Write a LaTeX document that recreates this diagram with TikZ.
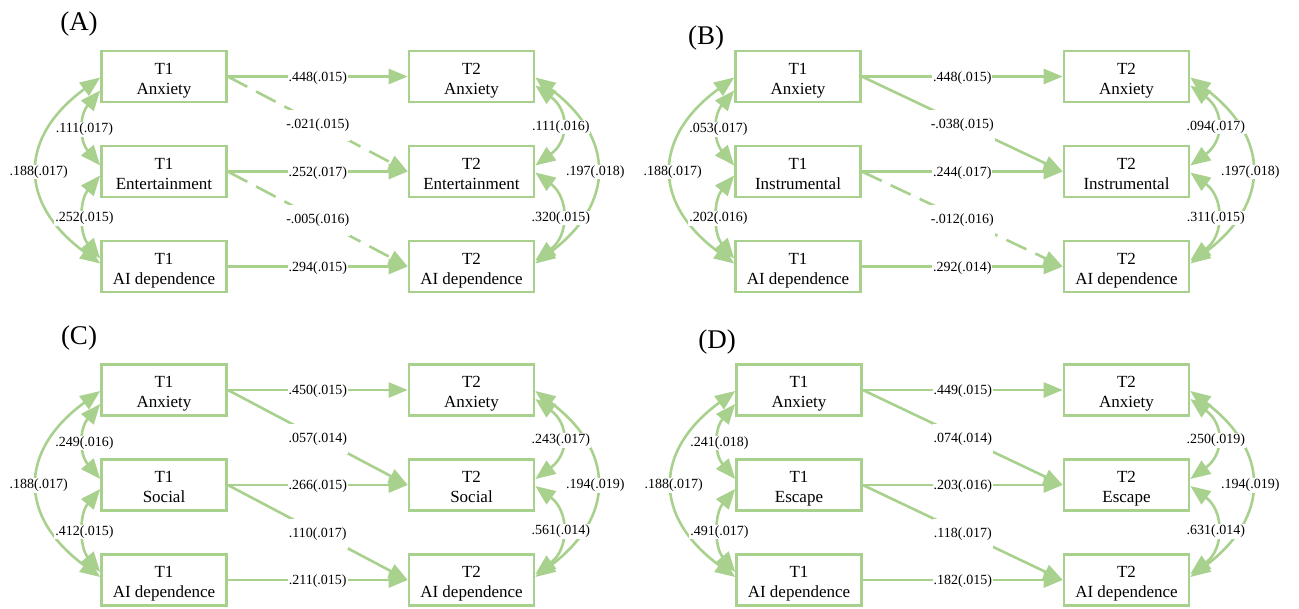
\documentclass[tikz,border=0pt]{standalone}
\usepackage{fontspec}
\setmainfont{Liberation Serif}
\usetikzlibrary{arrows.meta}
\definecolor{gr}{HTML}{A9D18E}
\tikzset{
 box/.style={draw=gr, line width=2.6pt, minimum width=125pt, minimum height=51pt, inner sep=0pt, align=center, font=\fontsize{17}{20}\selectfont, text height=39.5pt, text depth=3.7pt},
 arr/.style={draw=gr, line width=2.6pt, -{Triangle[length=19pt,width=15pt]}},
 darr/.style={draw=gr, line width=2.6pt, {Triangle[length=20pt,width=16pt]}-{Triangle[length=20pt,width=16pt]}},
 lab/.style={fill=white, inner xsep=1pt, inner ysep=2pt, yshift=-1.5pt, font=\fontsize{14}{14}\selectfont, text=black},
 dlab/.style={lab, inner ysep=9pt},
 alab/.style={lab, inner ysep=1pt},
 dsh/.style={dash pattern=on 22pt off 10pt},
 sol/.style={},
 ptitle/.style={font=\fontsize{27}{27}\selectfont}
}
\newcommand\mypanel[5]{%
 \node[box] (#1a) at (#2,#4) {T1\\Anxiety};
 \node[box] (#1b) at (#2,#4+95) {T1\\#5};
 \node[box] (#1c) at (#2,#4+190) {T1\\AI dependence};
 \node[box] (#1d) at (#3,#4) {T2\\Anxiety};
 \node[box] (#1e) at (#3,#4+95) {T2\\#5};
 \node[box] (#1f) at (#3,#4+190) {T2\\AI dependence};
 \draw[arr] (#1a.east) -- node[lab]{\hA} (#1d.west);
 \draw[arr] (#1b.east) -- node[lab]{\hB} (#1e.west);
 \draw[arr] (#1c.east) -- node[lab]{\hC} (#1f.west);
 \draw[arr,\sA] (#1a.east) -- node[dlab]{\gA} (#1e.west);
 \draw[arr,\sB] (#1b.east) -- node[dlab]{\gB} (#1f.west);
 \draw[darr] ([yshift=-1pt]#1a.west) .. controls +(-82,60) and +(-82,-60) .. ([yshift=3pt]#1c.west) node[pos=0.5,alab]{\lB};
 \draw[darr] ([yshift=-14pt]#1a.west) .. controls +(-21,25) and +(-21,-25) .. ([yshift=6pt]#1b.west) node[pos=0.5,alab]{\lA};
 \draw[darr] ([yshift=-4pt]#1b.west) .. controls +(-21,25) and +(-21,-25) .. ([yshift=8pt]#1c.west) node[pos=0.5,alab]{\lC};
 \draw[darr] ([yshift=-1pt]#1d.east) .. controls +(80,60) and +(80,-60) .. ([yshift=3pt]#1f.east) node[pos=0.5,alab]{\rB};
 \draw[darr] ([yshift=-9pt]#1d.east) .. controls +(34,25) and +(34,-25) .. ([yshift=6pt]#1e.east) node[pos=0.5,alab]{\rA};
 \draw[darr] ([yshift=-1pt]#1e.east) .. controls +(34,25) and +(34,-25) .. ([yshift=6pt]#1f.east) node[pos=0.5,alab]{\rC};
}
\begin{document}
\begin{tikzpicture}[x=1pt,y=-1pt]
\fill[white] (0,0) rectangle (1299,608);
\useasboundingbox (0,0) rectangle (1299,608);
% Panel A
\def\hA{.448(.015)}\def\hB{.252(.017)}\def\hC{.294(.015)}
\def\gA{-.021(.015)}\def\gB{-.005(.016)}\def\sA{dsh}\def\sB{dsh}
\def\lA{.111(.017)}\def\lB{.188(.017)}\def\lC{.252(.015)}
\def\rA{.111(.016)}\def\rB{.197(.018)}\def\rC{.320(.015)}
\mypanel{a}{164}{471.5}{76.5}{Entertainment}
\node[ptitle] (tA) at (79,24) {(A)};
% Panel B
\def\hA{.448(.015)}\def\hB{.244(.017)}\def\hC{.292(.014)}
\def\gA{-.038(.015)}\def\gB{-.012(.016)}\def\sA{sol}\def\sB{dsh}
\def\lA{.053(.017)}\def\lB{.188(.017)}\def\lC{.202(.016)}
\def\rA{.094(.017)}\def\rB{.197(.018)}\def\rC{.311(.015)}
\mypanel{b}{798}{1126.5}{76.5}{Instrumental}
\node[ptitle] (tB) at (706,38) {(B)};
% Panel C
\def\hA{.450(.015)}\def\hB{.266(.015)}\def\hC{.211(.015)}
\def\gA{.057(.014)}\def\gB{.110(.017)}\def\sA{sol}\def\sB{sol}
\def\lA{.249(.016)}\def\lB{.188(.017)}\def\lC{.412(.015)}
\def\rA{.243(.017)}\def\rB{.194(.019)}\def\rC{.561(.014)}
\mypanel{c}{164}{471.5}{390}{Social}
\node[ptitle] (tC) at (79,338) {(C)};
% Panel D
\def\hA{.449(.015)}\def\hB{.203(.016)}\def\hC{.182(.015)}
\def\gA{.074(.014)}\def\gB{.118(.017)}\def\sA{sol}\def\sB{sol}
\def\lA{.241(.018)}\def\lB{.188(.017)}\def\lC{.491(.017)}
\def\rA{.250(.019)}\def\rB{.194(.019)}\def\rC{.631(.014)}
\mypanel{d}{799}{1126.5}{390}{Escape}
\node[ptitle] (tD) at (717,342) {(D)};
\end{tikzpicture}
\end{document}
